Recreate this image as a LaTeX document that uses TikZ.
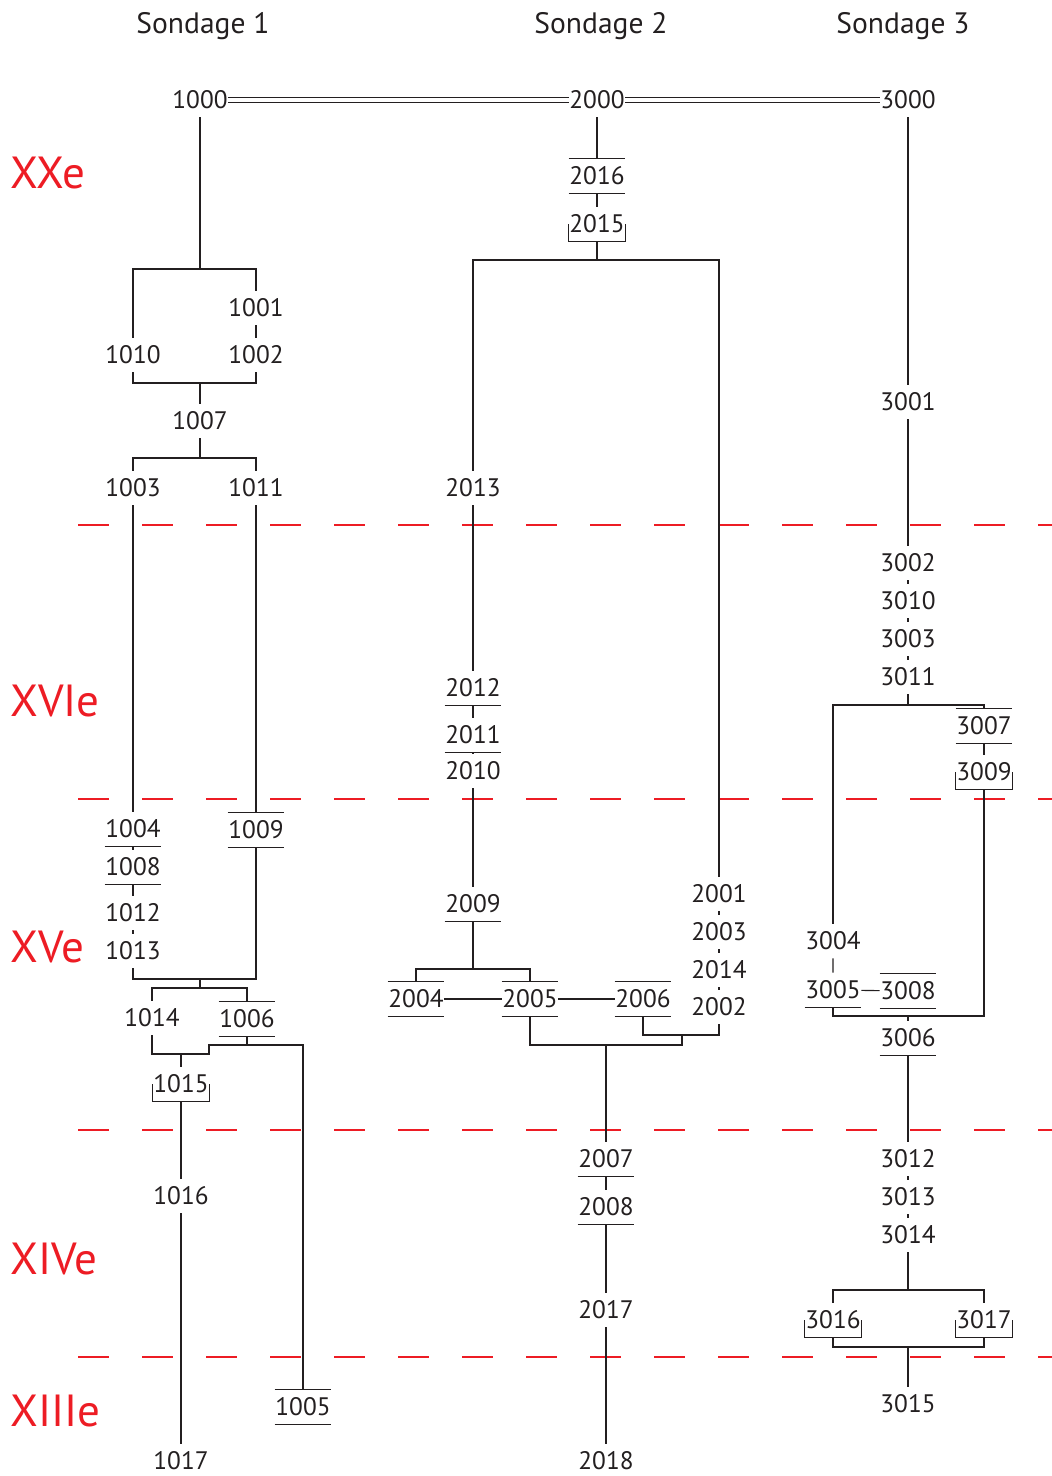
\documentclass[tikz,border=0pt]{standalone}
\usepackage{fontspec}
\setmainfont{PT Sans}
\usepackage{tikz}
\usetikzlibrary{calc}
\definecolor{century}{HTML}{ED1C24}
\definecolor{ink}{HTML}{231F20}

\begin{document}
\begin{tikzpicture}[
  x=0.025cm, y=-0.025cm,
  font=\fontsize{18}{20}\selectfont,
  us/.style={inner sep=0pt,minimum width=1.4cm,minimum height=0.85cm,text=ink},
  ln/.style={draw=ink,line width=0.8pt},
  hd/.style={anchor=base,font=\fontsize{21}{24}\selectfont,text=ink},
  ct/.style={anchor=base west,inner sep=0pt,font=\fontsize{32}{36}\selectfont,text=century},
  lim/.style={draw=century,line width=0.8pt,dash pattern=on 0.78cm off 0.82cm}
]
\useasboundingbox (0,0) rectangle (1052,1476);

% headers and periods
\node[hd] (s1) at (203,33) {Sondage 1};
\node[hd] (s2) at (601,33) {Sondage 2};
\node[hd] (s3) at (903,33) {Sondage 3};
\node[ct] (c20) at (10,188)  {XXe};
\node[ct] (c16) at (10,716)  {XVIe};
\node[ct] (c15) at (10,962)  {XVe};
\node[ct] (c14) at (10,1274) {XIVe};
\node[ct] (c13) at (10,1426) {XIIIe};
\foreach \y in {525,799,1130,1357}
  \draw[lim] (78,\y) -- (1052,\y);

% sondage 1
\node[us] (u1000) at (200,100)  {1000};
\node[us] (u1001) at (256,308)  {1001};
\node[us] (u1002) at (256,355)  {1002};
\node[us] (u1010) at (133,355)  {1010};
\node[us] (u1007) at (200,421)  {1007};
\node[us] (u1003) at (133,488)  {1003};
\node[us] (u1011) at (256,488)  {1011};
\node[us] (u1004) at (133,829)  {1004};
\node[us] (u1008) at (133,867)  {1008};
\node[us] (u1012) at (133,913)  {1012};
\node[us] (u1013) at (133,951)  {1013};
\node[us] (u1009) at (256,830)  {1009};
\node[us] (u1014) at (152,1018) {1014};
\node[us] (u1006) at (247,1019) {1006};
\node[us] (u1015) at (181,1084) {1015};
\node[us] (u1016) at (181,1196) {1016};
\node[us] (u1017) at (181,1461) {1017};
\node[us] (u1005) at (303,1407) {1005};

% sondage 2
\node[us] (u2000) at (597,100)  {2000};
\node[us] (u2016) at (597,176)  {2016};
\node[us] (u2015) at (597,224)  {2015};
\node[us] (u2013) at (473,488)  {2013};
\node[us] (u2012) at (473,688)  {2012};
\node[us] (u2011) at (473,735)  {2011};
\node[us] (u2010) at (473,771)  {2010};
\node[us] (u2009) at (473,904)  {2009};
\node[us] (u2004) at (416,999)  {2004};
\node[us] (u2005) at (530,999)  {2005};
\node[us] (u2006) at (643,999)  {2006};
\node[us] (u2001) at (719,894)  {2001};
\node[us] (u2003) at (719,932)  {2003};
\node[us] (u2014) at (719,970)  {2014};
\node[us] (u2002) at (719,1007) {2002};
\node[us] (u2007) at (606,1159) {2007};
\node[us] (u2008) at (606,1207) {2008};
\node[us] (u2017) at (606,1310) {2017};
\node[us] (u2018) at (606,1461) {2018};

% sondage 3
\node[us] (u3000) at (908,100)  {3000};
\node[us] (u3001) at (908,402)  {3001};
\node[us] (u3002) at (908,563)  {3002};
\node[us] (u3010) at (908,601)  {3010};
\node[us] (u3003) at (908,639)  {3003};
\node[us] (u3011) at (908,677)  {3011};
\node[us] (u3007) at (984,726)  {3007};
\node[us] (u3009) at (984,772)  {3009};
\node[us] (u3004) at (833,941)  {3004};
\node[us] (u3005) at (833,990)  {3005};
\node[us] (u3008) at (908,991)  {3008};
\node[us] (u3006) at (908,1038) {3006};
\node[us] (u3012) at (908,1159) {3012};
\node[us] (u3013) at (908,1197) {3013};
\node[us] (u3014) at (908,1235) {3014};
\node[us] (u3016) at (833,1320) {3016};
\node[us] (u3017) at (984,1320) {3017};
\node[us] (u3015) at (908,1404) {3015};

% bars under / over / brackets
\foreach \n in {1009,1006,1005,2016,2004,2005,2006,3007,3008}
  \draw[ln] (u\n.north west) -- (u\n.north east);
\foreach \n in {1004,1008,1009,1006,1005,2016,2012,2011,2009,2004,2005,2006,2007,2008,3007,3005,3008,3006}
  \draw[ln] (u\n.south west) -- (u\n.south east);
\foreach \n in {1015,2015,3009,3016,3017}
  \draw[ln] (u\n.west) -- (u\n.south west) -- (u\n.south east) -- (u\n.east);

% links sondage 1
\coordinate (j1) at (200,269);
\coordinate (j2) at (200,383);
\coordinate (j3) at (200,458);
\coordinate (j4) at (200,979);
\coordinate (j5) at (200,988);
\coordinate (j6) at (181,1054);
\coordinate (j6b) at (209,1054);
\coordinate (j7) at (247,1045);
\draw[ln] (u1000) -- (j1);
\draw[ln] (u1010) |- (j1) -| (u1001);
\draw[ln] (u1001) -- (u1002);
\draw[ln] (u1010) |- (j2) -| (u1002);
\draw[ln] (j2) -- (u1007) -- (j3);
\draw[ln] (u1003) |- (j3) -| (u1011);
\draw[ln] (u1003) -- (u1004) -- (u1008) -- (u1012) -- (u1013);
\draw[ln] (u1011) -- (u1009);
\draw[ln] (u1013) |- (j4) -| (u1009);
\draw[ln] (j4) -- (j5);
\draw[ln] (u1014) |- (j5) -| (u1006);
\draw[ln] (u1014) |- (j6b) |- (j7) -| (u1005);
\draw[ln] (u1006) -- (j7);
\draw[ln] (j6) -- (u1015);
\draw[ln] (u1015) -- (u1016) -- (u1017);

% links sondage 2
\draw[ln,double,double distance=2.5pt] (u1000) -- (u2000);
\draw[ln,double,double distance=2.5pt] (u2000) -- (u3000);
\coordinate (k1) at (597,260);
\coordinate (k2) at (473,969);
\coordinate (k3) at (682,1035);
\coordinate (k4) at (606,1045);
\draw[ln] (u2000) -- (u2016) -- (u2015) -- (k1);
\draw[ln] (u2013) |- (k1) -| (u2001);
\draw[ln] (u2013) -- (u2012) -- (u2011) -- (u2010) -- (u2009) -- (k2);
\draw[ln] (u2004) |- (k2) -| (u2005);
\draw[ln] (u2004) -- (u2005) -- (u2006);
\draw[ln] (u2001) -- (u2003) -- (u2014) -- (u2002);
\draw[ln] (u2006) |- (k3) -| (u2002);
\draw[ln] (u2005) |- (k4) -| (k3);
\draw[ln] (k4) -- (u2007) -- (u2008) -- (u2017) -- (u2018);

% links sondage 3
\coordinate (m1) at (908,705);
\coordinate (m2) at (908,1016);
\coordinate (m3) at (908,1290);
\coordinate (m4) at (908,1347);
\draw[ln] (u3000) -- (u3001) -- (u3002) -- (u3010) -- (u3003) -- (u3011) -- (m1);
\draw[ln] (u3004) |- (m1) -| (u3007);
\draw[ln] (u3007) -- (u3009);
\draw[ln] (u3004) -- (u3005) -- (u3008);
\draw[ln] (u3005) |- (m2) -| (u3009);
\draw[ln] (m2) -- (u3006) -- (u3012) -- (u3013) -- (u3014) -- (m3);
\draw[ln] (u3016) |- (m3) -| (u3017);
\draw[ln] (u3016) |- (m4) -| (u3017);
\draw[ln] (m4) -- (u3015);
\end{tikzpicture}
\end{document}
